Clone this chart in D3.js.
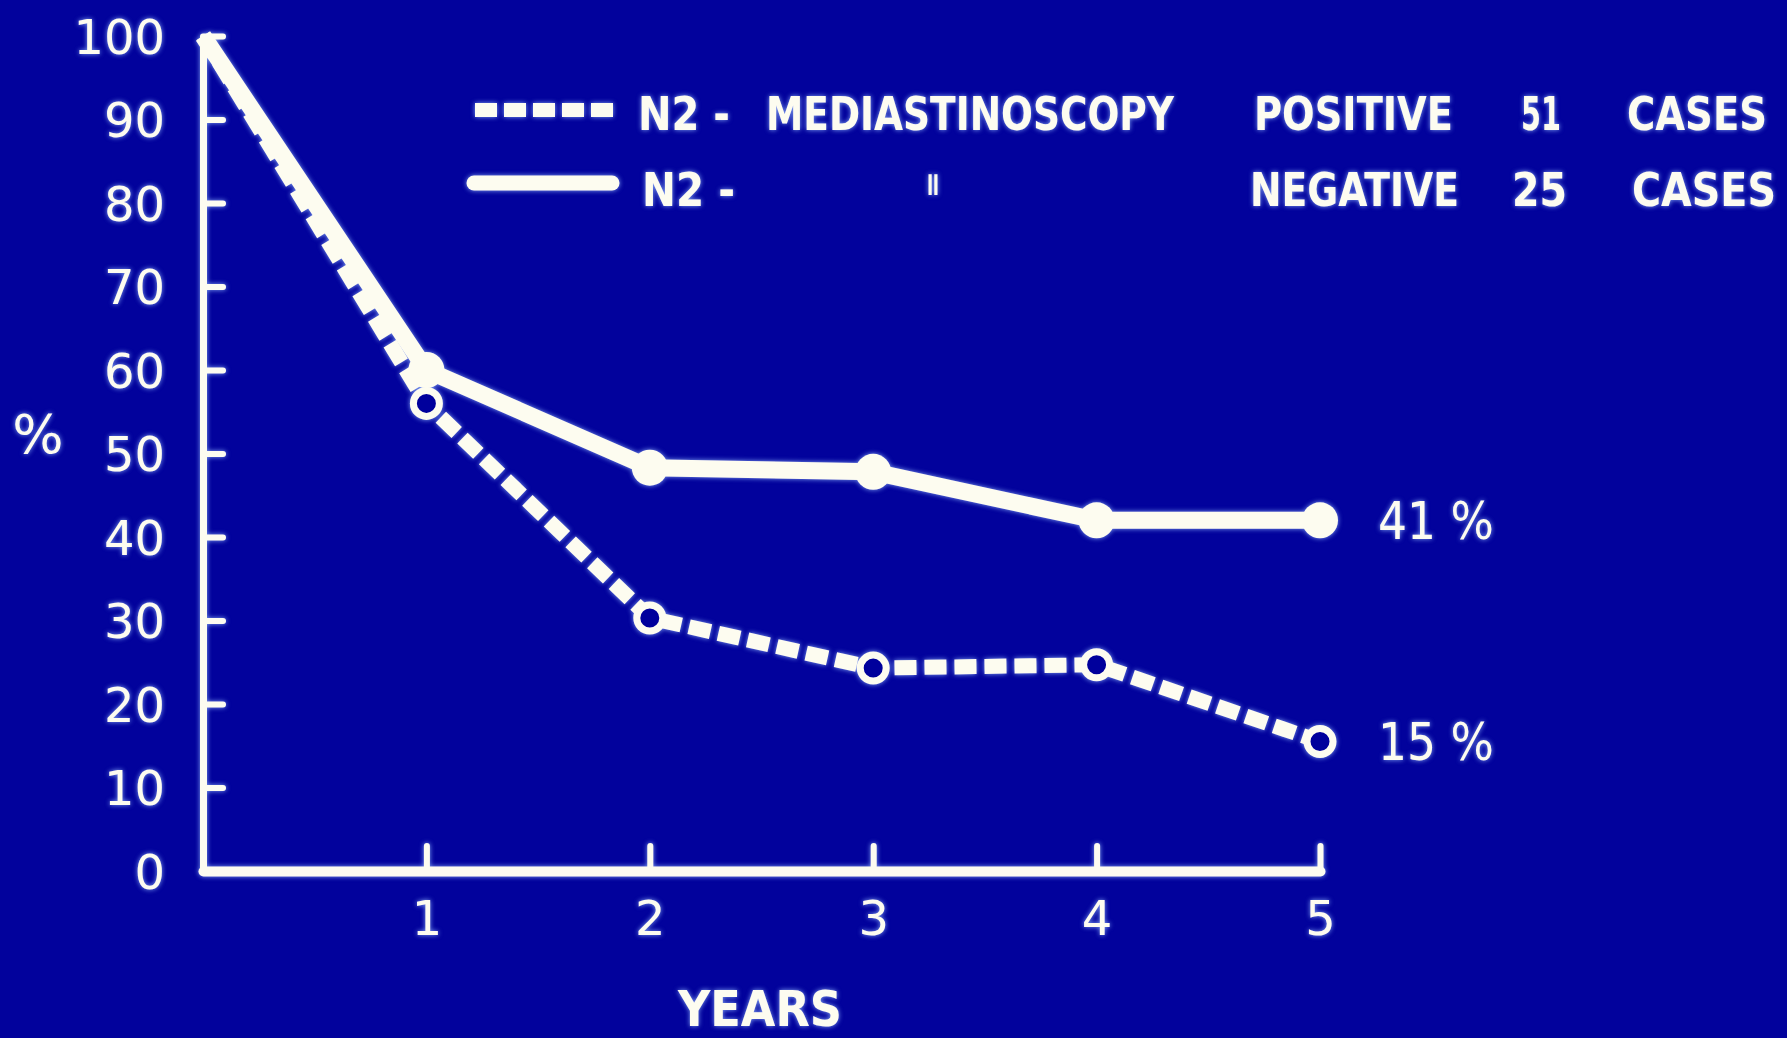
<!DOCTYPE html>
<html>
<head>
<meta charset="utf-8">
<script src="https://cdn.jsdelivr.net/npm/d3@7"></script>
<style>
  html, body { margin: 0; padding: 0; background: #02029c; }
  svg { display: block; }
  .tick text { font-family: "DejaVu Sans", sans-serif; }
</style>
</head>
<body>
<div id="survival"></div>
<script>
var width = 1787;
var height = 1038;

// survival values (percent at each year)
var years = [0, 1, 2, 3, 4, 5];
var negative = [100, 60, 48.3, 47.8, 42, 42];
var positive = [100, 56, 30.3, 24.3, 24.7, 15.5];
var endLabels = ["41 %", "15 %"];
var yTicks = [0, 10, 20, 30, 40, 50, 60, 70, 80, 90, 100];
var xTicks = [1, 2, 3, 4, 5];

var legendPositive = ["N2 -", "MEDIASTINOSCOPY", "POSITIVE", "51", "CASES"];
var legendNegative = ["N2 -", "\"", "NEGATIVE", "25", "CASES"];

var ink = "#fdfcf0";
var bg = "#02029c";

var margin = {left: 203, right: 467, top: 36, bottom: 167};

var svg = d3.select("#survival")
            .append("svg")
            .attr("width", width)
            .attr("height", height);

svg.append("rect")
   .attr("width", width)
   .attr("height", height)
   .attr("fill", bg);

// soft halo like a projected slide
var defs = svg.append("defs");
var glow = defs.append("filter")
               .attr("id", "glow")
               .attr("x", "-10%").attr("y", "-10%")
               .attr("width", "120%").attr("height", "120%");
glow.append("feGaussianBlur").attr("in", "SourceAlpha").attr("stdDeviation", 2.5).attr("result", "b");
glow.append("feFlood").attr("flood-color", "#8fb6ff").attr("flood-opacity", 0.9);
glow.append("feComposite").attr("in2", "b").attr("operator", "in").attr("result", "g");
var merge = glow.append("feMerge");
merge.append("feMergeNode").attr("in", "g");
merge.append("feMergeNode").attr("in", "SourceGraphic");

var g = svg.append("g").attr("filter", "url(#glow)");

var xScale = d3.scaleLinear()
               .domain([0, 5])
               .range([margin.left, width - margin.right]);
var yScale = d3.scaleLinear()
               .domain([0, 100])
               .range([height - margin.bottom, margin.top]);

var xAxis = d3.axisBottom(xScale)
              .tickValues(xTicks)
              .tickSizeInner(-25)
              .tickSizeOuter(0)
              .tickPadding(30)
              .tickFormat(d3.format("d"));
var yAxis = d3.axisLeft(yScale)
              .tickValues(yTicks)
              .tickSizeInner(-20)
              .tickSizeOuter(0)
              .tickPadding(38)
              .tickFormat(d3.format("d"));

var yG = g.append("g")
          .attr("class", "y-Axis")
          .attr("transform", "translate(" + xScale(0) + ",0)")
          .call(yAxis);
yG.select(".domain").attr("stroke", ink).attr("stroke-width", 7);
yG.selectAll(".tick line").attr("stroke", ink).attr("stroke-width", 6).attr("stroke-linecap", "round");
yG.selectAll(".tick text")
  .attr("fill", ink)
  .attr("font-size", 48)
  .attr("dy", "0.36em");

var xG = g.append("g")
          .attr("class", "x-Axis")
          .attr("transform", "translate(0," + yScale(0) + ")")
          .call(xAxis);
xG.select(".domain").attr("stroke", ink).attr("stroke-width", 10).attr("stroke-linecap", "round");
xG.selectAll(".tick line").attr("stroke", ink).attr("stroke-width", 6).attr("stroke-linecap", "round");
xG.selectAll(".tick text")
  .attr("fill", ink)
  .attr("font-size", 48);

// axis titles
g.append("text")
 .attr("x", 38).attr("y", yScale(50) - 20)
 .attr("text-anchor", "middle")
 .attr("dy", "0.36em")
 .attr("font-family", "DejaVu Sans, sans-serif")
 .attr("font-size", 54)
 .attr("fill", ink)
 .text("%");

g.append("text")
 .attr("x", 760).attr("y", 1026)
 .attr("text-anchor", "middle")
 .attr("font-family", "DejaVu Sans, sans-serif")
 .attr("font-weight", "bold")
 .attr("font-stretch", "condensed")
 .attr("font-size", 50)
 .attr("textLength", 164)
 .attr("lengthAdjust", "spacingAndGlyphs")
 .attr("fill", ink)
 .text("YEARS");

var line = d3.line()
             .x(function(d, i){ return xScale(years[i]); })
             .y(function(d){ return yScale(d); });

// N2 positive: dashed line, open circles
g.append("path")
 .datum(positive)
 .attr("d", line)
 .attr("fill", "none")
 .attr("stroke", ink)
 .attr("stroke-width", 15)
 .attr("stroke-dasharray", "22,8");

// N2 negative: solid line, filled circles
g.append("path")
 .datum(negative)
 .attr("d", line)
 .attr("fill", "none")
 .attr("stroke", ink)
 .attr("stroke-width", 17)
 .attr("stroke-linejoin", "round");

g.selectAll(".openDot")
 .data(positive.slice(1))
 .enter()
 .append("circle")
 .attr("class", "openDot")
 .attr("cx", function(d, i){ return xScale(years[i + 1]); })
 .attr("cy", function(d){ return yScale(d); })
 .attr("r", 13)
 .attr("fill", bg)
 .attr("stroke", ink)
 .attr("stroke-width", 7);

g.selectAll(".fullDot")
 .data(negative.slice(1))
 .enter()
 .append("circle")
 .attr("class", "fullDot")
 .attr("cx", function(d, i){ return xScale(years[i + 1]); })
 .attr("cy", function(d){ return yScale(d); })
 .attr("r", 18)
 .attr("fill", ink);

// end-of-line percentages
var lastVals = [negative[negative.length - 1], positive[positive.length - 1]];
g.selectAll(".endLabel")
 .data(endLabels)
 .enter()
 .append("text")
 .attr("class", "endLabel")
 .attr("x", xScale(5) + 58)
 .attr("y", function(d, i){ return yScale(lastVals[i]); })
 .attr("dy", "0.36em")
 .attr("font-family", "DejaVu Sans, sans-serif")
 .attr("font-size", 52)
 .attr("textLength", 116)
 .attr("lengthAdjust", "spacingAndGlyphs")
 .attr("fill", ink)
 .text(function(d){ return d; });

// legend
var legendX1 = [638, 766, 1254, 1521, 1627];
var legendW1 = [92, 408, 199, 40, 140];
var legendX2 = [642, 926, 1250, 1512, 1632];
var legendW2 = [93, 14, 209, 55, 144];

function legendRow(words, xs, ws, baseline){
  g.selectAll(null)
   .data(words)
   .enter()
   .append("text")
   .attr("x", function(d, i){ return xs[i]; })
   .attr("y", baseline)
   .attr("dy", function(d){ return d === "\"" ? "0.32em" : null; })
   .attr("font-family", "DejaVu Sans, sans-serif")
   .attr("font-weight", "bold")
   .attr("font-stretch", "condensed")
   .attr("font-size", function(d){ return d === "\"" ? 76 : 46; })
   .attr("textLength", function(d, i){ return ws[i]; })
   .attr("lengthAdjust", "spacingAndGlyphs")
   .attr("fill", ink)
   .text(function(d){ return d; });
}
legendRow(legendPositive, legendX1, legendW1, 130);
legendRow(legendNegative, legendX2, legendW2, 206);

g.append("line")
 .attr("x1", 475).attr("x2", 613)
 .attr("y1", 110).attr("y2", 110)
 .attr("stroke", ink)
 .attr("stroke-width", 14)
 .attr("stroke-dasharray", "22,7");
g.append("line")
 .attr("x1", 474).attr("x2", 612)
 .attr("y1", 183).attr("y2", 183)
 .attr("stroke", ink)
 .attr("stroke-width", 15)
 .attr("stroke-linecap", "round");
</script>
</body>
</html>
